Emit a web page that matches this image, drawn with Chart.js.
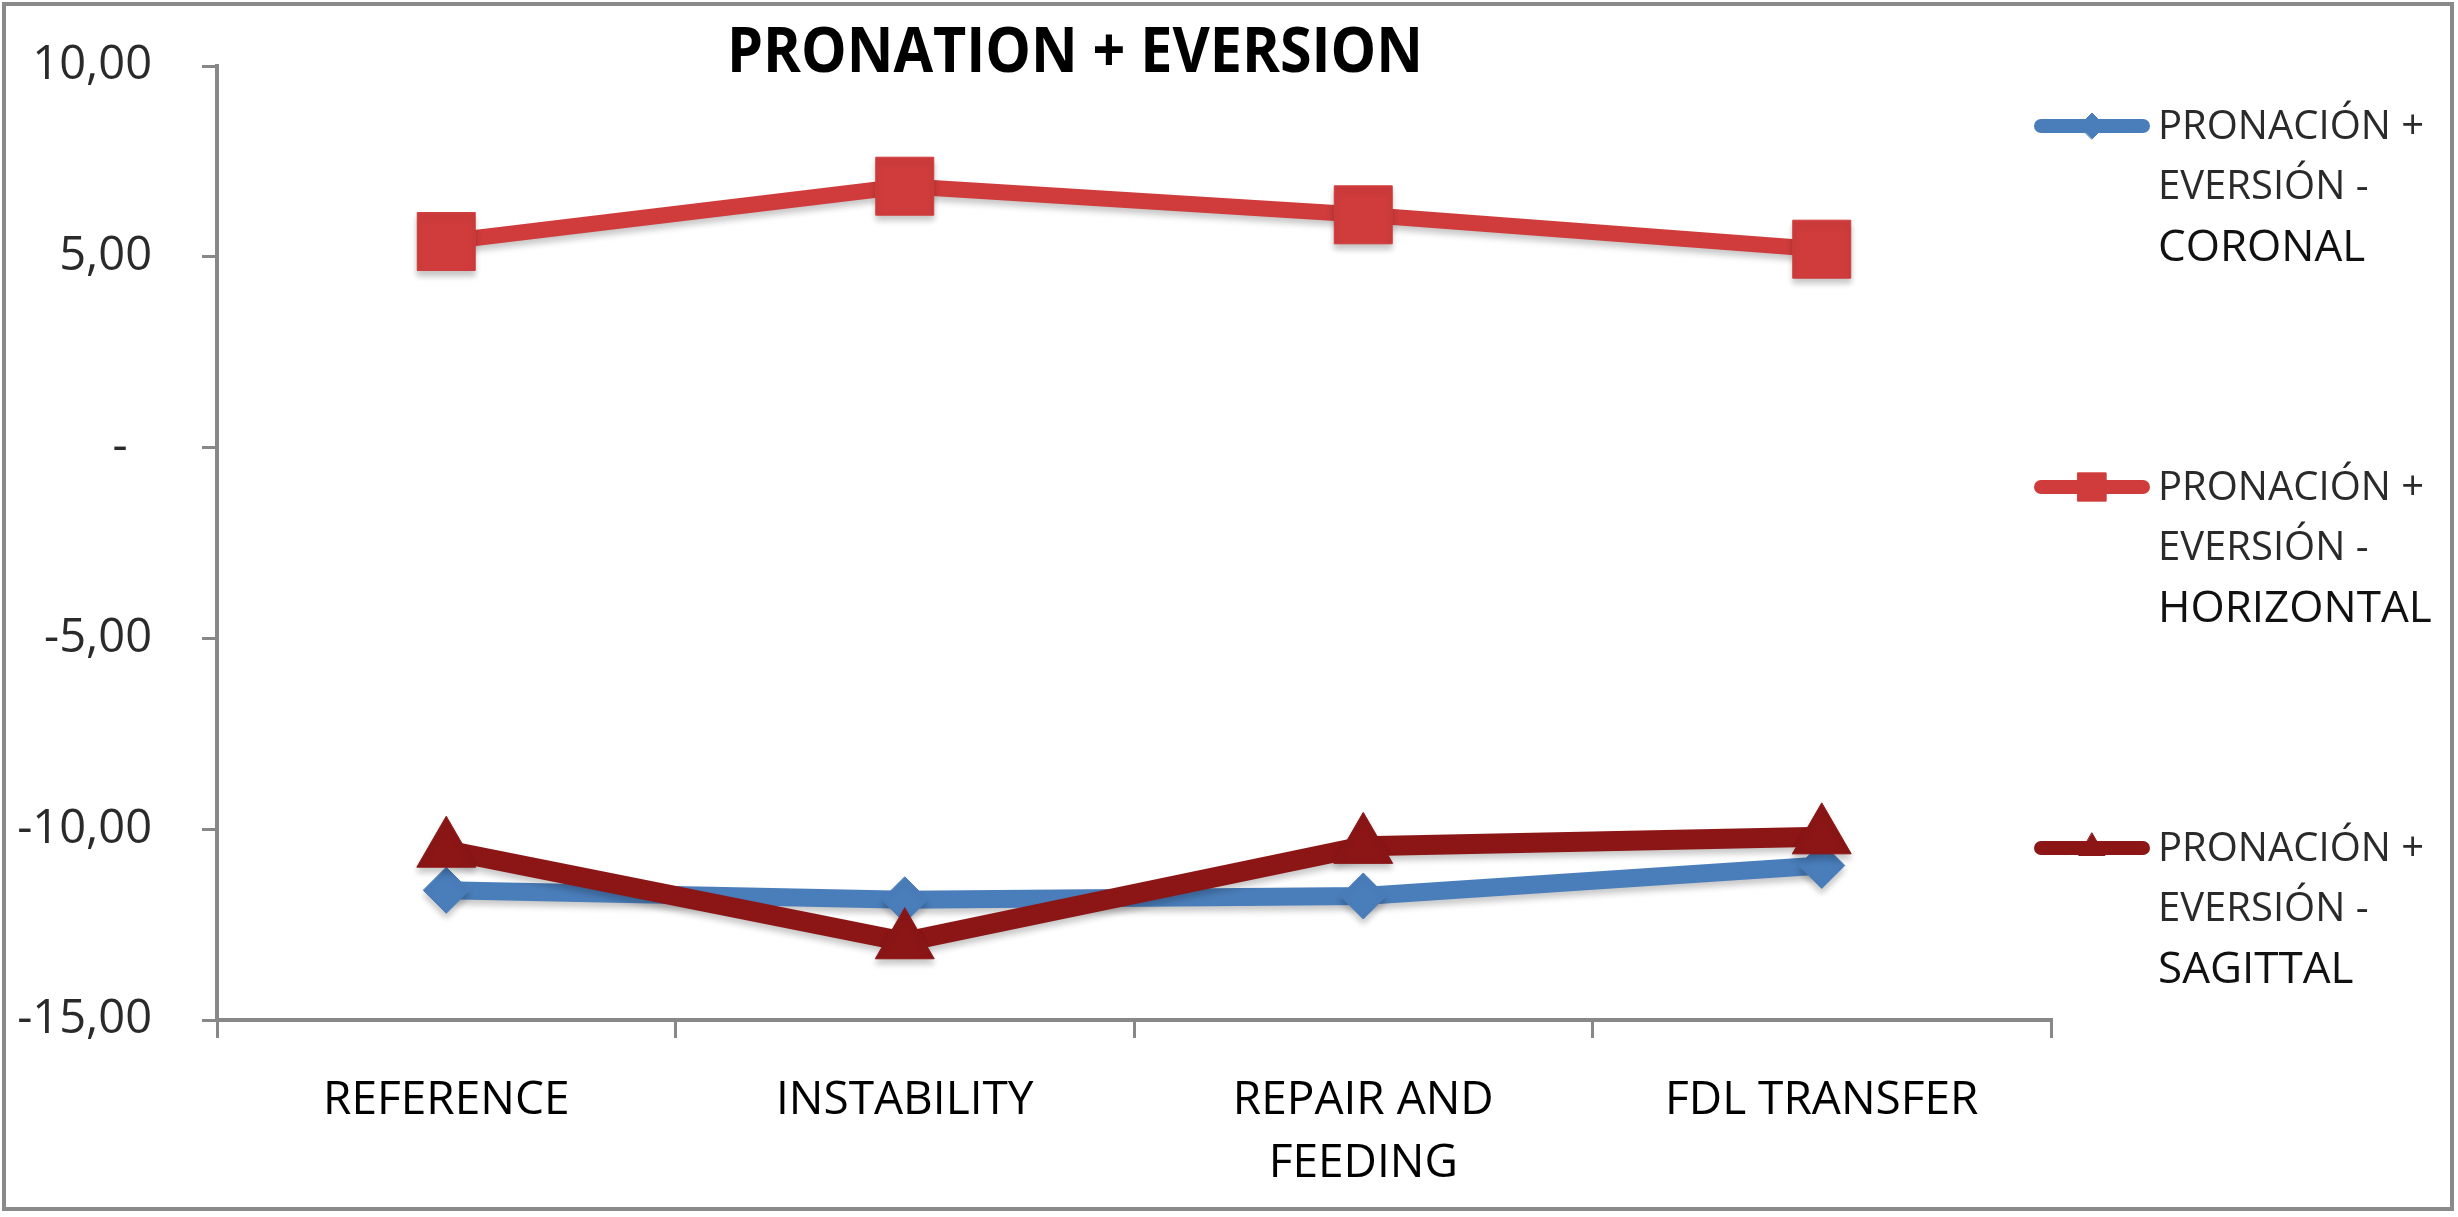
<!DOCTYPE html>
<html>
<head>
<meta charset="utf-8">
<script src="https://cdn.jsdelivr.net/npm/chart.js@4.4.0/dist/chart.umd.min.js"></script>
<style>
  html, body { margin: 0; padding: 0; background: #fff; }
</style>
</head>
<body>
<canvas id="myChart" width="2458" height="1217"></canvas>
<script>
// data
var categories = ['REFERENCE', 'INSTABILITY', ['REPAIR AND', 'FEEDING'], 'FDL TRANSFER'];
var coronal = [-11.6, -11.85, -11.75, -10.95];
var horizontal = [5.4, 6.85, 6.1, 5.2];
var sagittal = [-10.55, -12.95, -10.45, -10.2];
var seriesNames = [
  ['PRONACIÓN +', 'EVERSIÓN -', 'CORONAL'],
  ['PRONACIÓN +', 'EVERSIÓN -', 'HORIZONTAL'],
  ['PRONACIÓN +', 'EVERSIÓN -', 'SAGITTAL']
];
var yMin = -15, yMax = 10, yStep = 5;
var chartTitle = 'PRONATION + EVERSION';

var blue = '#4a7ebb';
var red = '#d03c3c';
var darkRed = '#8c1616';
var FONT = '"Open Sans", "DejaVu Sans", sans-serif';

function fmt(v) {
  if (v === 0) return '-  ';
  return v.toFixed(2).replace('.', ',');
}

// soft drop shadow under the series, like the office chart
var shadowPlugin = {
  id: 'shadow',
  beforeDatasetDraw: function (chart) {
    var ctx = chart.ctx;
    ctx.save();
    ctx.shadowColor = 'rgba(0,0,0,0.22)';
    ctx.shadowBlur = 6;
    ctx.shadowOffsetY = 5;
  },
  afterDatasetDraw: function (chart) {
    chart.ctx.restore();
  }
};

// frame, title and the three-line legend
var decoPlugin = {
  id: 'deco',
  afterDraw: function (chart) {
    var ctx = chart.ctx;
    ctx.save();
    ctx.strokeStyle = '#8a8a8a';
    ctx.lineWidth = 4;
    ctx.strokeRect(4, 4, chart.width - 10, chart.height - 12);

    // title
    ctx.font = 'bold 62px ' + FONT;
    ctx.fillStyle = '#000';
    ctx.textBaseline = 'middle';
    ctx.textAlign = 'center';
    var w = ctx.measureText(chartTitle).width;
    var sx = 696 / w;
    ctx.save();
    ctx.translate(1075, 54);
    ctx.scale(sx, 1);
    ctx.fillText(chartTitle, 0, 0);
    ctx.restore();

    // legend
    var colors = [blue, red, darkRed];
    var styles = ['rectRot', 'rect', 'triangle'];
    var groupTop = [126, 487, 848];
    ctx.textAlign = 'left';
    for (var i = 0; i < 3; i++) {
      var y = groupTop[i];
      ctx.strokeStyle = colors[i];
      ctx.lineWidth = 14;
      ctx.lineCap = 'round';
      ctx.beginPath();
      ctx.moveTo(2041, y);
      ctx.lineTo(2143, y);
      ctx.stroke();
      ctx.fillStyle = colors[i];
      ctx.strokeStyle = colors[i];
      ctx.lineWidth = 1;
      var r = styles[i] === 'rect' ? 20 : (styles[i] === 'triangle' ? 15 : 13);
      Chart.helpers.drawPoint(ctx, { pointStyle: styles[i], radius: r, borderWidth: 1, rotation: 0 }, 2092, y);
      for (var k = 0; k < 3; k++) {
        ctx.fillStyle = k === 2 ? '#111' : '#2a2a2a';
        ctx.font = (k === 2 ? '44px ' : '40px ') + FONT;
        ctx.fillText(seriesNames[i][k], 2158, y + k * 60 + 2);
      }
    }
    ctx.restore();
  }
};

var data = {
  labels: categories,
  datasets: [
    {
      label: seriesNames[0].join(' '),
      data: coronal,
      borderColor: blue,
      backgroundColor: blue,
      borderWidth: 18,
      pointStyle: 'rectRot',
      pointRadius: 23,
      pointBackgroundColor: blue,
      pointBorderColor: blue,
      pointBorderWidth: 1,
      order: 3
    },
    {
      label: seriesNames[1].join(' '),
      data: horizontal,
      borderColor: red,
      backgroundColor: red,
      borderWidth: 16,
      pointStyle: 'rect',
      pointRadius: 41,
      pointBackgroundColor: red,
      pointBorderColor: red,
      pointBorderWidth: 1,
      order: 2
    },
    {
      label: seriesNames[2].join(' '),
      data: sagittal,
      borderColor: darkRed,
      backgroundColor: darkRed,
      borderWidth: 20,
      pointStyle: 'triangle',
      pointRadius: 34,
      pointBackgroundColor: darkRed,
      pointBorderColor: darkRed,
      pointBorderWidth: 1,
      order: 1
    }
  ]
};

var options = {
  responsive: false,
  animation: false,
  devicePixelRatio: 1,
  events: [],
  layout: { padding: { left: 0, right: 407, top: 66, bottom: 0 } },
  elements: { line: { tension: 0, borderJoinStyle: 'round' } },
  plugins: {
    legend: { display: false },
    title: { display: false },
    tooltip: { enabled: false }
  },
  scales: {
    x: {
      type: 'category',
      offset: true,
      grid: {
        offset: true,
        drawOnChartArea: false,
        drawTicks: true,
        tickLength: 18,
        color: '#888',
        lineWidth: 3
      },
      border: { display: true, color: '#888', width: 4 },
      ticks: {
        autoSkip: false,
        maxRotation: 0,
        padding: 31,
        color: '#000',
        font: { family: FONT, size: 46, lineHeight: 1.37 }
      },
      afterFit: function (scale) { scale.height = 197; }
    },
    y: {
      min: yMin,
      max: yMax,
      grid: {
        drawOnChartArea: false,
        drawTicks: true,
        tickLength: 15,
        color: '#888',
        lineWidth: 3
      },
      border: { display: true, color: '#888', width: 4 },
      ticks: {
        stepSize: yStep,
        padding: 50,
        color: '#2a2a2a',
        font: { family: FONT, size: 47 },
        callback: function (v) { return fmt(v); }
      },
      afterFit: function (scale) {
        scale.width = 217;
        scale.paddingTop = 30;
        scale.paddingBottom = 30;
      }
    }
  }
};

var myChart = new Chart(document.getElementById('myChart'), {
  type: 'line',
  data: data,
  options: options,
  plugins: [shadowPlugin, decoPlugin]
});
</script>
</body>
</html>
